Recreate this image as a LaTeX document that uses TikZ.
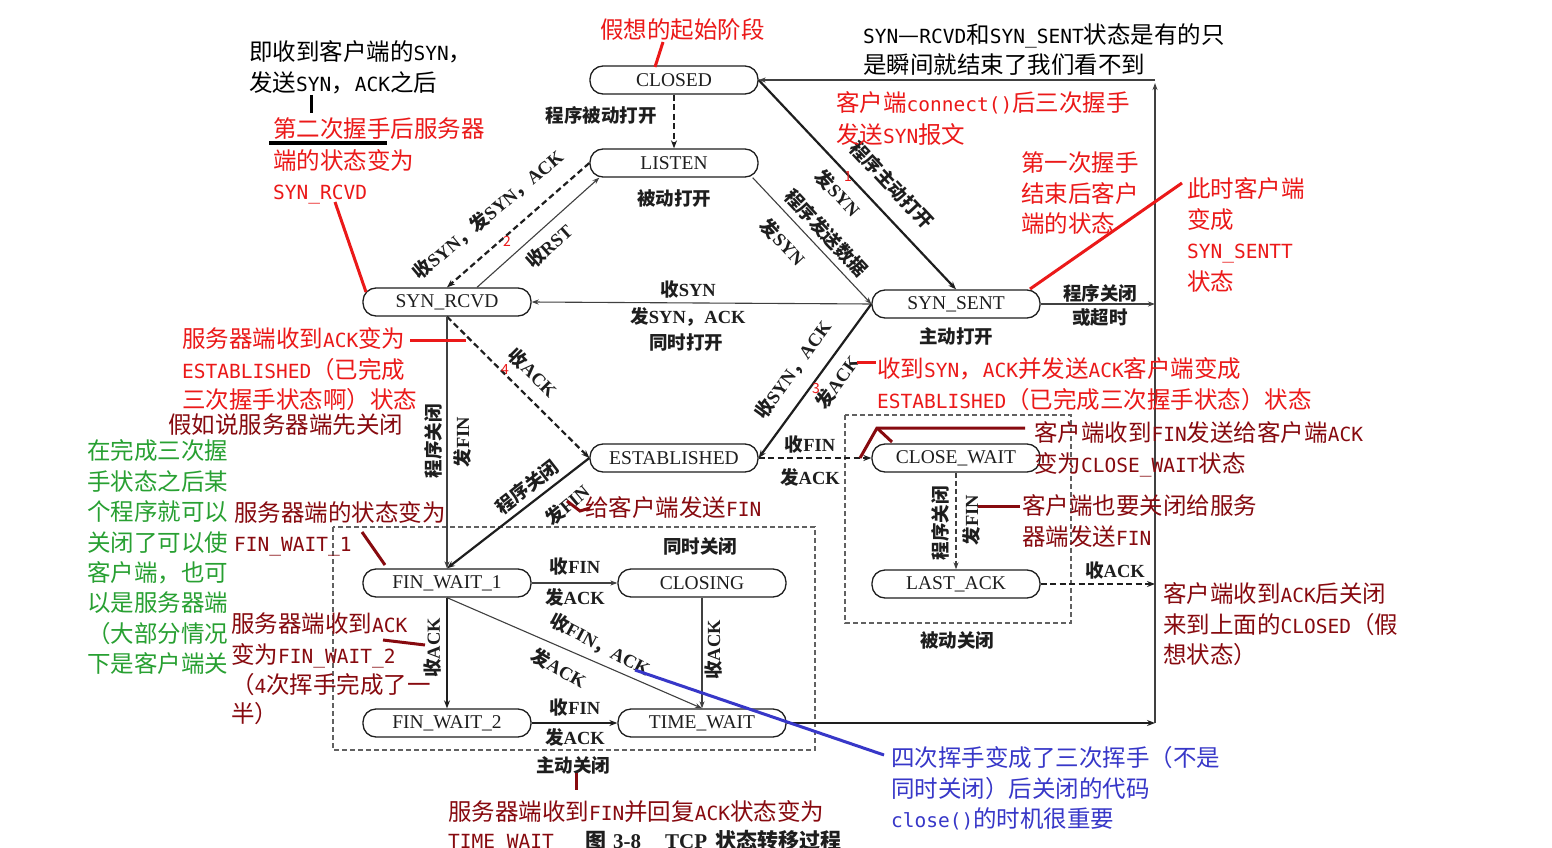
\documentclass[tikz,border=0pt]{standalone}
\usepackage{fontspec}
\setmainfont{Noto Sans CJK SC}
\newfontfamily\serfam{Liberation Serif}
\newfontfamily\monofam{DejaVu Sans Mono}
\usetikzlibrary{arrows.meta}
\definecolor{cred}{RGB}{235,25,25}
\definecolor{cdred}{RGB}{135,10,15}
\definecolor{cgreen}{RGB}{40,160,50}
\definecolor{cblue}{RGB}{55,55,200}
\definecolor{fig}{RGB}{30,30,30}
\newcommand\anlat[1]{{\monofam\fontsize{19.5}{31}\selectfont #1}}
\newcommand\fsr[1]{{\serfam #1}}
\tikzset{
 st/.style={draw=fig, line width=1.3pt, rounded corners=13pt, minimum width=168pt, minimum height=28pt, inner sep=0pt, font=\serfam\fontsize{19.5}{20}\selectfont, text=fig},
 lab/.style={inner sep=0pt, text=fig, font=\bfseries\fontsize{18.5}{20}\selectfont},
 ann/.style={anchor=base west, inner sep=0pt, font=\fontsize{23.5}{31}\selectfont},
 num/.style={inner sep=0pt, text=cred, font=\fontsize{14}{14}\selectfont},
 thk/.style={draw=fig, line width=2.2pt, -{Stealth[length=8pt,width=6pt]}},
 thn/.style={draw=fig!85, line width=1.1pt, -{Stealth[length=7pt,width=5pt]}},
 dthk/.style={thk, dash pattern=on 6pt off 3.5pt},
 dthn/.style={thn, line width=1.6pt, dash pattern=on 5pt off 3pt},
 dbox/.style={draw=fig!70, line width=1.4pt, dash pattern=on 5pt off 3pt},
 aline/.style={line width=3pt},
}
\begin{document}
\begin{tikzpicture}[x=1pt,y=-1pt]
\fill[white] (0,0) rectangle (1552,848);
\useasboundingbox (0,0) rectangle (1552,848);

% dashed boxes
\draw[dbox] (845,415) rectangle (1071,623);
\draw[dbox] (333,527) rectangle (815,750);

% states
\node[st] (closed) at (674,80) {CLOSED};
\node[st] (listen) at (674,163) {LISTEN};
\node[st] (synrcvd) at (447,302) {SYN\_RCVD};
\node[st] (synsent) at (956,304) {SYN\_SENT};
\node[st] (est) at (674,458) {ESTABLISHED};
\node[st] (closewait) at (956,458) {CLOSE\_WAIT};
\node[st] (fw1) at (447,583) {FIN\_WAIT\_1};
\node[st] (closing) at (702,583) {CLOSING};
\node[st] (lastack) at (956,584) {LAST\_ACK};
\node[st] (fw2) at (447,723) {FIN\_WAIT\_2};
\node[st] (tw) at (702,723) {TIME\_WAIT};

\coordinate (busT) at (1155,80);
\coordinate (busB) at (1155,723);

% transitions
\draw[dthk] (closed.south) -- (listen.north);
\draw[thk] (closed.east) -- (synsent.north);
\draw[thn] ([xshift=-6pt]listen.south east) -- (synsent.west);
\draw[dthk] (listen.west) -- (synrcvd.north);
\draw[thn] ([xshift=30pt]synrcvd.north) -- ([xshift=10pt]listen.south west);
\draw[thn] (synsent.west) -- (synrcvd.east);
\draw[dthk] (synrcvd.south) -- (est.west);
\draw[thk] (synsent.west) -- (est.east);
\draw[thn] (synrcvd.south) -- (fw1.north);
\draw[thk] (est.west) -- (fw1.north);
\draw[dthk] (est.east) -- (closewait.west);
\draw[dthn] (closewait.south) -- (lastack.north);
\draw[dthk] (lastack.east) -- (lastack.east -| busT);
\draw[thn] (synsent.east) -- (synsent.east -| busT);
\draw[thn] (fw1.east) -- (closing.west);
\draw[thk] (fw1.south) -- (fw2.north);
\draw[thn] (fw1.south) -- (tw.north);
\draw[thn] (closing.south) -- (tw.north);
\draw[thk] (fw2.east) -- (tw.west);
\draw[thk] (tw.east) -- (busB);
\draw[thn, line width=1.5pt] (busB) -- ([yshift=-3pt]busT);
\draw[thn, line width=1.5pt] (busT) -- (closed.east);

% figure labels
\node[lab] (l1) at (601,115) {程序被动打开};
\node[lab] (l2) at (674,198) {被动打开};
\node[lab, rotate=40] (l3) at (488,215) {收\fsr{SYN}，发\fsr{SYN}，\fsr{ACK}};
\node[lab, rotate=42] (l4) at (549,246) {收\fsr{RST}};
\node[lab, rotate=-47] (l5) at (892,185) {程序主动打开};
\node[lab, rotate=-47] (l6) at (838,193) {发\fsr{SYN}};
\node[lab, rotate=-47] (l7) at (826,233) {程序发送数据};
\node[lab, rotate=-47] (l8) at (783,242) {发\fsr{SYN}};
\node[lab] (l9) at (688,290) {收\fsr{SYN}};
\node[lab] (l10) at (688,317) {发\fsr{SYN}，\fsr{ACK}};
\node[lab] (l11) at (686,343) {同时打开};
\node[lab] (l12) at (956,336) {主动打开};
\node[lab, rotate=-45] (l13) at (533,373) {收\fsr{ACK}};
\node[lab, rotate=54] (l14) at (793,370) {收\fsr{SYN}，\fsr{ACK}};
\node[lab, rotate=54] (l15) at (837,382) {发\fsr{ACK}};
\node[lab, rotate=90] (l16) at (433,441) {程序关闭};
\node[lab, rotate=90] (l17) at (462,442) {发\fsr{FIN}};
\node[lab, rotate=38] (l18) at (527,487) {程序关闭};
\node[lab, rotate=40] (l19) at (567,505) {发\fsr{FIN}};
\node[lab] (l20) at (810,445) {收\fsr{FIN}};
\node[lab] (l21) at (810,477) {发\fsr{ACK}};
\node[lab, rotate=90] (l22) at (940,523) {程序关闭};
\node[lab, rotate=90] (l23) at (971,520) {发\fsr{FIN}};
\node[lab] (l24) at (1115,571) {收\fsr{ACK}};
\node[lab] (l25) at (1100,293) {程序关闭};
\node[lab] (l26) at (1100,318) {或超时};
\node[lab] (l27) at (700,546) {同时关闭};
\node[lab] (l28) at (575,567) {收\fsr{FIN}};
\node[lab] (l29) at (575,597) {发\fsr{ACK}};
\node[lab, rotate=90] (l30) at (433,648) {收\fsr{ACK}};
\node[lab, rotate=-28] (l31) at (600,645) {收\fsr{FIN}，\fsr{ACK}};
\node[lab, rotate=-30] (l32) at (559,668) {发\fsr{ACK}};
\node[lab, rotate=90] (l33) at (713,650) {收\fsr{ACK}};
\node[lab] (l34) at (575,707) {收\fsr{FIN}};
\node[lab] (l35) at (575,737) {发\fsr{ACK}};
\node[lab] (l36) at (957,640) {被动关闭};
\node[lab] (l37) at (573,765) {主动关闭};
\node[lab, anchor=west, font=\bfseries\fontsize{21}{21}\selectfont] (cap) at (585,840) {图\hspace{7pt}\fsr{3-8}\hspace{24pt}\fsr{TCP}\hspace{8pt}状态转移过程};

% red step numbers
\node[num] (n1) at (848,177) {1};
\node[num] (n2) at (507,241) {2};
\node[num] (n3) at (816,389) {3};
\node[num] (n4) at (505,370) {4};

% annotation leader lines
\draw[aline, cred] (663,42) -- (655,67);
\draw[aline, cred] (335,202) -- (366,292);
\draw[aline, cred] (1182,183) -- (1030,289);
\draw[aline, cred] (410,340) -- (466,340);
\draw[aline, cred] (857,362) -- (876,362);
\draw[aline, black] (311,95) -- (311,113);
\draw[aline, black] (269,143) -- (387,143);
\draw[aline, cdred] (362,532) -- (385,565);
\draw[aline, cdred] (383,640) -- (425,645);
\draw[aline, cdred] (567,501) -- (580,511) -- (590,508);
\draw[aline, cdred] (1025,428) -- (877,428) -- (860,458);
\draw[aline, cdred] (877,428) -- (892,442);
\draw[aline, cdred] (978,506) -- (1020,506);
\draw[aline, cdred] (576,773) -- (576,790);
\draw[aline, cblue] (635,670) -- (884,755);

% black annotations
\node[ann] (a1) at (249,61) {即收到客户端的\anlat{SYN}，};
\node[ann] (a2) at (249,92) {发送\anlat{SYN}，\anlat{ACK}之后};
\node[ann] (a3) at (863,44) {\anlat{SYN}—\anlat{RCVD}和\anlat{SYN\_SENT}状态是有的只};
\node[ann] (a4) at (863,74) {是瞬间就结束了我们看不到};

% red annotations
\begin{scope}[every node/.append style={text=cred}]
\node[ann] (r1) at (600,39) {假想的起始阶段};
\node[ann] (r2) at (273,138) {第二次握手后服务器};
\node[ann] (r3) at (273,169) {端的状态变为};
\node[ann] (r4) at (273,199) {\anlat{SYN\_RCVD}};
\node[ann] (r5) at (836,112) {客户端\anlat{connect()}后三次握手};
\node[ann] (r6) at (836,143) {发送\anlat{SYN}报文};
\node[ann] (r7) at (1021,171) {第一次握手};
\node[ann] (r8) at (1021,202) {结束后客户};
\node[ann] (r9) at (1021,232) {端的状态};
\node[ann] (r10) at (1187,197) {此时客户端};
\node[ann] (r11) at (1187,228) {变成};
\node[ann] (r12) at (1187,258) {\anlat{SYN\_SENTT}};
\node[ann] (r13) at (1187,290) {状态};
\node[ann] (r14) at (182,347) {服务器端收到\anlat{ACK}变为};
\node[ann] (r15) at (182,378) {\anlat{ESTABLISHED}（已完成};
\node[ann] (r16) at (182,408) {三次握手状态啊）状态};
\node[ann] (r17) at (877,377) {收到\anlat{SYN}，\anlat{ACK}并发送\anlat{ACK}客户端变成};
\node[ann] (r18) at (877,408) {\anlat{ESTABLISHED}（已完成三次握手状态）状态};
\end{scope}

% dark red annotations
\begin{scope}[every node/.append style={text=cdred}]
\node[ann] (d1) at (168,433) {假如说服务器端先关闭};
\node[ann] (d2) at (234,521) {服务器端的状态变为};
\node[ann] (d3) at (234,551) {\anlat{FIN\_WAIT\_1}};
\node[ann] (d4) at (231,632) {服务器端收到\anlat{ACK}};
\node[ann] (d5) at (231,663) {变为\anlat{FIN\_WAIT\_2}};
\node[ann] (d6) at (231,693) {（\anlat{4}次挥手完成了一};
\node[ann] (d7) at (231,722) {半）};
\node[ann] (d8) at (585,516) {给客户端发送\anlat{FIN}};
\node[ann] (d9) at (1034,441) {客户端收到\anlat{FIN}发送给客户端\anlat{ACK}};
\node[ann] (d10) at (1034,472) {变为\anlat{CLOSE\_WAIT}状态};
\node[ann] (d11) at (1022,514) {客户端也要关闭给服务};
\node[ann] (d12) at (1022,545) {器端发送\anlat{FIN}};
\node[ann] (d13) at (1163,602) {客户端收到\anlat{ACK}后关闭};
\node[ann] (d14) at (1163,633) {来到上面的\anlat{CLOSED}（假};
\node[ann] (d15) at (1163,663) {想状态）};
\node[ann] (d16) at (448,820) {服务器端收到\anlat{FIN}并回复\anlat{ACK}状态变为};
\node[ann] (d17) at (448,848) {\anlat{TIME\_WAIT}};
\end{scope}

% green annotations
\begin{scope}[every node/.append style={text=cgreen}]
\node[ann] (g1) at (87,459) {在完成三次握};
\node[ann] (g2) at (87,490) {手状态之后某};
\node[ann] (g3) at (87,520) {个程序就可以};
\node[ann] (g4) at (87,551) {关闭了可以使};
\node[ann] (g5) at (87,581) {客户端，也可};
\node[ann] (g6) at (87,611) {以是服务器端};
\node[ann] (g7) at (87,642) {（大部分情况};
\node[ann] (g8) at (87,672) {下是客户端关};
\end{scope}

% blue annotations
\begin{scope}[every node/.append style={text=cblue}]
\node[ann] (b1) at (891,766) {四次挥手变成了三次挥手（不是};
\node[ann] (b2) at (891,797) {同时关闭）后关闭的代码};
\node[ann] (b3) at (891,827) {\anlat{close()}的时机很重要};
\end{scope}
\end{tikzpicture}
\end{document}
